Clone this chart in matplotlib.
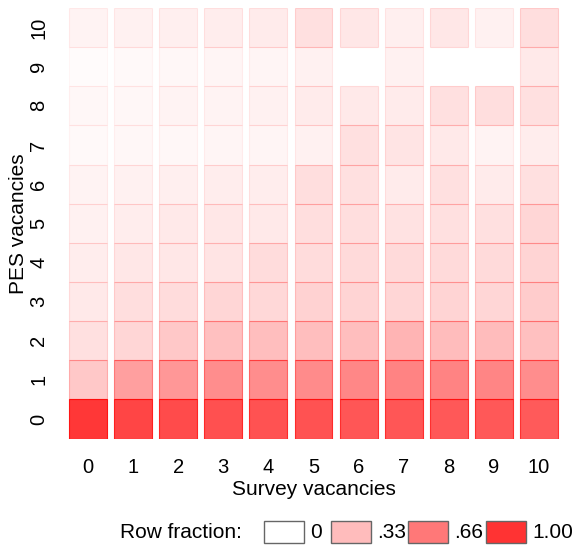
import matplotlib
matplotlib.use("Agg")
import matplotlib.pyplot as plt
from matplotlib.patches import Rectangle
import numpy as np

plt.rcParams['font.family'] = ['Liberation Sans', 'DejaVu Sans']

survey = list(range(11))          # x categories (Survey vacancies)
pes = list(range(11))             # y categories (PES vacancies)

# row fraction per PES row (values across survey vacancies 0..10); None = no cell
pes0 = [0.98, 0.91, 0.88, 0.86, 0.85, 0.85, 0.83, 0.83, 0.82, 0.82, 0.81]
pes1 = [0.27, 0.47, 0.51, 0.56, 0.56, 0.57, 0.59, 0.61, 0.61, 0.60, 0.56]
pes2 = [0.15, 0.20, 0.27, 0.31, 0.32, 0.32, 0.32, 0.37, 0.33, 0.33, 0.31]
pes3 = [0.11, 0.16, 0.17, 0.20, 0.19, 0.22, 0.21, 0.20, 0.21, 0.20, 0.25]
pes4 = [0.09, 0.12, 0.12, 0.13, 0.17, 0.17, 0.18, 0.18, 0.18, 0.18, 0.21]
pes5 = [0.07, 0.09, 0.11, 0.12, 0.11, 0.16, 0.16, 0.14, 0.15, 0.15, 0.20]
pes6 = [0.06, 0.07, 0.08, 0.09, 0.09, 0.16, 0.15, 0.10, 0.15, 0.10, 0.15]
pes7 = [0.03, 0.04, 0.04, 0.05, 0.05, 0.07, 0.15, 0.13, 0.11, 0.06, 0.09]
pes8 = [0.04, 0.04, 0.06, 0.06, 0.07, 0.10, 0.11, 0.10, 0.15, 0.16, 0.15]
pes9 = [0.02, 0.03, 0.04, 0.05, 0.05, 0.07, None, 0.07, None, None, 0.11]
pes10 = [0.06, 0.07, 0.08, 0.09, 0.10, 0.15, 0.12, 0.08, 0.12, 0.07, 0.16]

legend_values = [0, 0.33, 0.66, 1.00]
legend_labels = ['0', '.33', '.66', '1.00']

rows = [pes0, pes1, pes2, pes3, pes4, pes5, pes6, pes7, pes8, pes9, pes10]


def fill_rgba(v):
    return (1.0, 0.0, 0.0, 0.8 * v)


def edge_rgba(v):
    return (1.0, 0.0, 0.0, min(1.0, 0.8 * v * 1.08 + 0.015))


fig = plt.figure(figsize=(5.75, 5.5), dpi=100)
ax = fig.add_axes([65.5 / 575, 1 - 438.6 / 550, 496 / 575, 430.7 / 550])

for yi, row in zip(pes, rows):
    for xi, v in zip(survey, row):
        if v is None:
            continue
        ax.bar(xi, 1.0, bottom=yi - 0.5, width=0.84,
               color=fill_rgba(v), edgecolor=edge_rgba(v), linewidth=0.8)

ax.set_xlim(-0.5, 10.5)
ax.set_ylim(-0.5, 10.5)
for s in ax.spines.values():
    s.set_visible(False)
ax.set_xticks(survey)
ax.set_yticks(pes)
ax.set_xticklabels([str(v) for v in survey], fontsize=14.5)
ax.set_yticklabels([str(v) for v in pes], fontsize=14.5, rotation=90, va='center')
ax.tick_params(axis='both', length=0)
ax.tick_params(axis='x', pad=14)
ax.tick_params(axis='y', pad=12.5)
ax.set_xlabel('Survey vacancies', fontsize=15, labelpad=2)
ax.set_ylabel('PES vacancies', fontsize=15, labelpad=0.5)

# legend
W, H = 575.0, 550.0
fig.text(120.5 / W, 1 - 532 / H, 'Row fraction:', fontsize=15, va='center', ha='left')
sw_left = [264, 331, 408, 486]
for left, v, lab in zip(sw_left, legend_values, legend_labels):
    c = fill_rgba(v)
    fig.patches.append(Rectangle((left / W, 1 - 543 / H), 40 / W, 22 / H,
                                 transform=fig.transFigure, facecolor=c,
                                 edgecolor='#666666', linewidth=1.0))
    fig.text((left + 46) / W, 1 - 532 / H, lab, fontsize=15, va='center', ha='left')

fig.savefig('out.png', dpi=100)
